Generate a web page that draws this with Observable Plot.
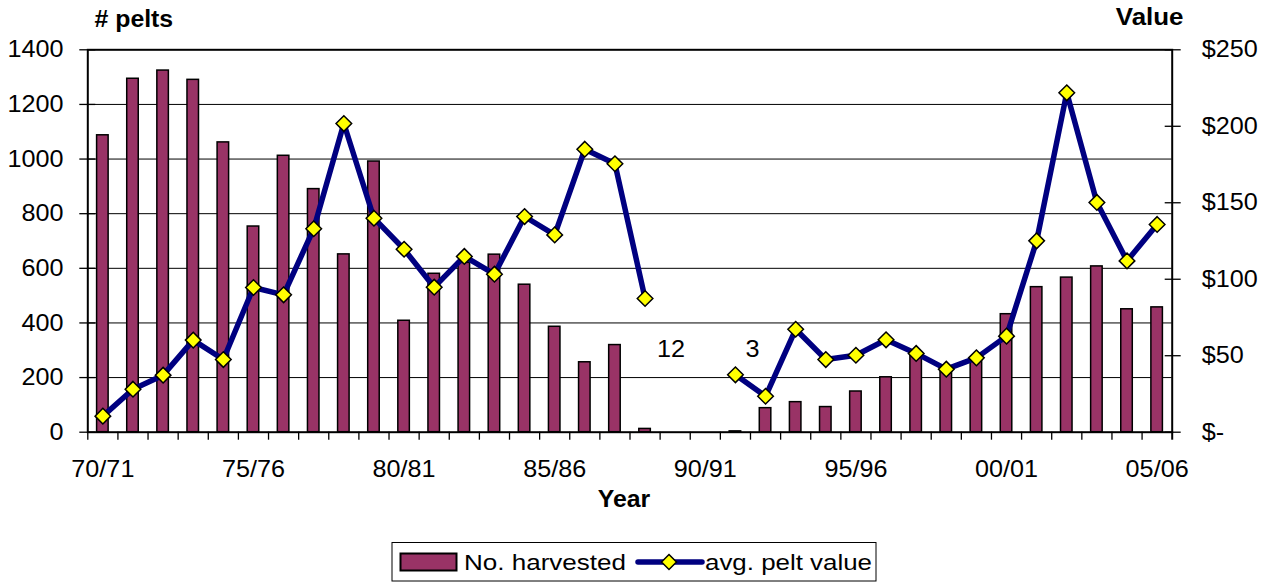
<!DOCTYPE html>
<html>
<head>
<meta charset="utf-8">
<script src="https://cdn.jsdelivr.net/npm/d3@7"></script>
<script src="https://cdn.jsdelivr.net/npm/@observablehq/plot@0.6"></script>
<style>
  html, body { margin: 0; padding: 0; background: #fff; }
  #chart { position: relative; width: 1271px; height: 582px; font-family: "Liberation Sans", Arial, sans-serif; }
  #chart > svg.legend { position: absolute; left: 0; top: 530px; }
</style>
</head>
<body>
<div id="chart"></div>
<script>
// ---- data ----
const seasons = ["70/71","71/72","72/73","73/74","74/75","75/76","76/77","77/78","78/79","79/80",
  "80/81","81/82","82/83","83/84","84/85","85/86","86/87","87/88","88/89","89/90",
  "90/91","91/92","92/93","93/94","94/95","95/96","96/97","97/98","98/99","99/00",
  "00/01","01/02","02/03","03/04","04/05","05/06"];
const harvested = [1087,1294,1324,1290,1061,753,1012,890,651,991,
  408,580,620,650,540,386,256,319,12,null,
  null,3,88,110,92,149,201,280,232,262,
  432,531,566,607,450,457];
const peltValue = [10.5,28.1,37.3,60.2,47.5,94.6,89.8,133,201.8,139.9,
  119.6,94.8,114.9,103.3,141,129,185,175.5,87.4,null,
  null,37.5,23.5,67.3,47.5,50.3,60.4,51.5,41.2,48.6,
  62.8,125.1,221.9,150.2,112,135.8];
const leftTicks = [0,200,400,600,800,1000,1200,1400];
const rightTicks = [0,50,100,150,200,250];
const xTickLabels = ["70/71","75/76","80/81","85/86","90/91","95/96","00/01","05/06"];
const labelSeasons = ["88/89","91/92"];
const labelTexts = ["12","3"];
const seriesNames = ["No. harvested","avg. pelt value"];

// right axis ($) mapped onto the left (pelts) scale
const leftMax = 1400, rightMax = 250;
const kScale = leftMax / rightMax;

const data = seasons.map((s, i) => ({season: s, n: harvested[i], v: peltValue[i]}));

const W = 1271, H = 530;
const fLeft = 87.3, fRight = 1171.7, fTop = 49.3, fBottom = 431.7;
const bw = (fRight - fLeft) / seasons.length;

const diamond = {
  draw(ctx, size) {
    const r = Math.sqrt(size / Math.PI);
    ctx.moveTo(0, -r); ctx.lineTo(r, 0); ctx.lineTo(0, r); ctx.lineTo(-r, 0); ctx.closePath();
  }
};

const plot = Plot.plot({
  width: W, height: H,
  marginLeft: fLeft, marginRight: W - fRight, marginTop: fTop, marginBottom: H - fBottom,
  x: {type: "band", domain: seasons, padding: 0, round: false, label: null},
  y: {domain: [0, leftMax], label: null},
  style: {fontFamily: "'Liberation Sans', Arial, sans-serif", fontSize: "24px", color: "#000", background: "#fff", overflow: "visible"},
  marks: [
    Plot.ruleY(leftTicks.filter(d => d > 0 && d < leftMax), {stroke: "#000", strokeWidth: 1}),
    Plot.barY(data.filter(d => d.n != null), {x: "season", y: "n", fill: "#993366", stroke: "#000", strokeWidth: 1.5, insetLeft: 9.3, insetRight: 9.3}),
    Plot.frame({stroke: "#000", strokeWidth: 2}),
    // category boundary ticks
    Plot.axisX({ticks: seasons, tickSize: 8, text: null, dx: -bw / 2, strokeWidth: 1.3, label: null}),
    Plot.axisX({ticks: [seasons[seasons.length - 1]], tickSize: 8, text: null, dx: bw / 2, strokeWidth: 2, label: null}),
    Plot.axisX({ticks: xTickLabels, tickSize: 0, tickPadding: 28, label: null, fontSize: 24}),
    // left axis
    Plot.axisY({ticks: leftTicks, anchor: "left", tickSize: 16, dx: 8, text: null, strokeWidth: 1.3, label: null}),
    Plot.axisY({ticks: leftTicks, anchor: "left", tickSize: 0, tickPadding: 24.3, label: null, fontSize: 24, tickFormat: d => String(d)}),
    // right axis
    Plot.axisY({ticks: rightTicks.map(d => d * kScale), anchor: "right", tickSize: 16, dx: -8, text: null, strokeWidth: 1.3, label: null}),
    Plot.axisY({ticks: rightTicks.map(d => d * kScale), anchor: "right", tickSize: 0, tickPadding: 29.5, label: null, fontSize: 24,
      tickFormat: d => { const v = Math.round(d / kScale); return v === 0 ? "$-" : "$" + v; }}),
    // line + markers
    Plot.line(data, {x: "season", y: d => d.v == null ? NaN : d.v * kScale, stroke: "#000080", strokeWidth: 5.5, strokeLinejoin: "miter"}),
    Plot.dot(data.filter(d => d.v != null), {x: "season", y: d => d.v * kScale, symbol: diamond, r: 7.8, fill: "#ffff00", stroke: "#000", strokeWidth: 1.5}),
    // data labels for tiny bars
    Plot.text([labelTexts[0]], {x: [labelSeasons[0]], y: [303], text: d => d, dx: 26, fontSize: 24}),
    Plot.text([labelTexts[1]], {x: [labelSeasons[1]], y: [303], text: d => d, dx: 17, fontSize: 24}),
    // titles
    Plot.text(["# pelts"], {frameAnchor: "top-left", lineAnchor: "middle", textAnchor: "start", dx: 6.7, dy: -30, fontWeight: "bold", fontSize: 23, className: "bold"}),
    Plot.text(["Value"], {frameAnchor: "top-right", lineAnchor: "middle", textAnchor: "end", dx: 11.3, dy: -32.5, fontWeight: "bold", fontSize: 24, className: "bold"}),
    Plot.text(["Year"], {frameAnchor: "bottom", lineAnchor: "middle", dx: -6, dy: 67.6, fontWeight: "bold", fontSize: 23, className: "bold"})
  ]
});

const chart = document.getElementById("chart");
chart.appendChild(plot);

// slight horizontal widening of text to match the reference's wide rendering
plot.querySelectorAll("text").forEach(t => {
  if (!t.textContent) return;
  const bold = t.closest(".bold") !== null;
  const L = t.getComputedTextLength();
  if (L > 0) {
    t.setAttribute("textLength", (L * (bold ? 1.08 : 1.05)).toFixed(2));
    t.setAttribute("lengthAdjust", "spacingAndGlyphs");
  }
});

// ---- legend ----
const ns = "http://www.w3.org/2000/svg";
const lg = document.createElementNS(ns, "svg");
lg.setAttribute("class", "legend");
lg.setAttribute("width", W);
lg.setAttribute("height", 52);
const oy = 530;
function el(name, attrs, text) {
  const e = document.createElementNS(ns, name);
  for (const a in attrs) e.setAttribute(a, attrs[a]);
  if (text) e.textContent = text;
  lg.appendChild(e);
  return e;
}
el("rect", {x: 392, y: 542.5 - oy, width: 484, height: 38.5, fill: "#fff", stroke: "#000", "stroke-width": 1});
el("rect", {x: 400.5, y: 553.5 - oy, width: 56, height: 17, fill: "#993366", stroke: "#000", "stroke-width": 2});
el("text", {x: 464, y: 569.5 - oy, "font-size": 22, "font-family": "'Liberation Sans', Arial, sans-serif", textLength: 162, lengthAdjust: "spacingAndGlyphs"}, seriesNames[0]);
el("line", {x1: 638, x2: 702, y1: 562 - oy, y2: 562 - oy, stroke: "#000080", "stroke-width": 5.5, "stroke-linecap": "round"});
el("path", {d: `M669,${562 - oy - 7.5}L${669 + 7.5},${562 - oy}L669,${562 - oy + 7.5}L${669 - 7.5},${562 - oy}Z`, fill: "#ffff00", stroke: "#000", "stroke-width": 1.5});
el("text", {x: 705, y: 569.5 - oy, "font-size": 22, "font-family": "'Liberation Sans', Arial, sans-serif", textLength: 167, lengthAdjust: "spacingAndGlyphs"}, seriesNames[1]);
chart.appendChild(lg);
</script>
</body>
</html>
